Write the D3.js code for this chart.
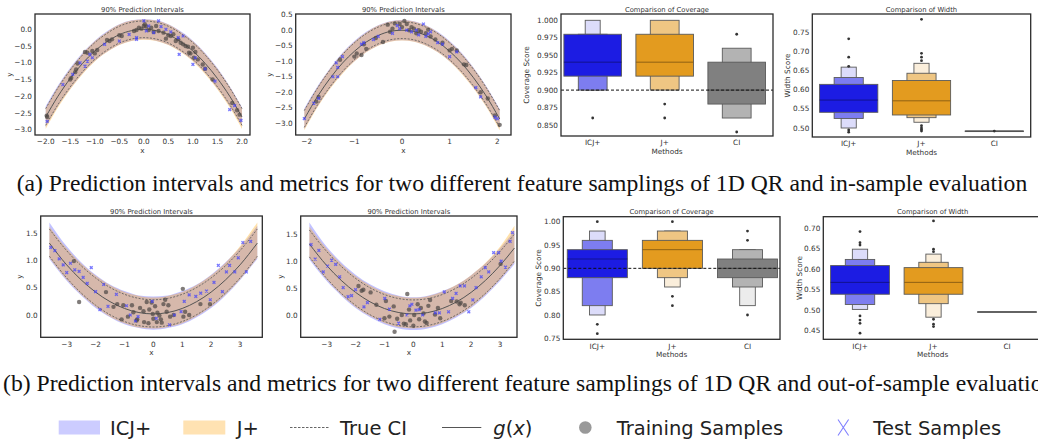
<!DOCTYPE html>
<html>
<head>
<meta charset="utf-8">
<script src="https://cdn.jsdelivr.net/npm/d3@7"></script>
<style>
  body { margin: 0; background: #fff; }
  svg { display: block; }
  text { font-family: "DejaVu Sans", sans-serif; fill: #333; }
</style>
</head>
<body>
<svg id="fig" width="1038" height="440"></svg>
<script>
// ---------- data ----------
const methods = ["ICJ+", "J+", "CI"]

// (a) left panel: x grid, g(x), true CI and the two prediction bands
const gridA = [-2, -1.75, -1.5, -1.25, -1, -0.75, -0.5, -0.25, 0, 0.25, 0.5, 0.75, 1, 1.25, 1.5, 1.75, 2]
const gA = [-2.62, -2.0, -1.47, -1.02, -0.65, -0.37, -0.16, -0.04, 0, -0.04, -0.16, -0.37, -0.65, -1.02, -1.47, -2.0, -2.62]
const ciLoA = [-2.87, -2.25, -1.72, -1.27, -0.9, -0.62, -0.41, -0.29, -0.25, -0.29, -0.41, -0.62, -0.9, -1.27, -1.72, -2.25, -2.87]
const ciHiA = [-2.37, -1.75, -1.22, -0.77, -0.4, -0.12, 0.09, 0.21, 0.25, 0.21, 0.09, -0.12, -0.4, -0.77, -1.22, -1.75, -2.37]
const icjLoA = [-2.92, -2.3, -1.78, -1.32, -0.95, -0.67, -0.46, -0.34, -0.3, -0.34, -0.46, -0.66, -0.94, -1.31, -1.77, -2.3, -2.9]
const icjHiA = [-2.3, -1.68, -1.15, -0.7, -0.34, -0.06, 0.15, 0.27, 0.3, 0.27, 0.15, -0.06, -0.34, -0.71, -1.16, -1.7, -2.33]
const jLoA = [-2.98, -2.34, -1.8, -1.34, -0.96, -0.68, -0.47, -0.35, -0.31, -0.35, -0.47, -0.68, -0.96, -1.34, -1.8, -2.34, -2.98]
const jHiA = [-2.36, -1.72, -1.18, -0.73, -0.36, -0.08, 0.14, 0.26, 0.29, 0.26, 0.14, -0.08, -0.36, -0.73, -1.18, -1.72, -2.36]
const trainA = [[-1.98, -2.58], [-1.97, -2.62], [-1.5, -1.5], [-1.48, -1.45], [-1.4, -1.28], [-1.38, -1.2], [-1.35, -1.02],
  [-1.2, -0.68], [-1.15, -0.7], [-1.05, -0.65], [-1.0, -0.72], [-0.95, -0.62], [-0.75, -0.32], [-0.7, -0.35], [-0.65, -0.3],
  [-0.5, -0.18], [-0.45, -0.2], [-0.2, -0.05], [-0.15, -0.02], [-0.1, 0.05], [-0.05, 0.02], [0.0, 0.1], [0.02, 0.15],
  [0.05, 0.08], [0.1, -0.02], [0.15, 0.05], [0.2, -0.08], [0.25, 0.1], [0.3, -0.05], [0.4, -0.1], [0.45, -0.28],
  [0.5, -0.18], [0.55, -0.2], [0.6, -0.15], [0.65, -0.35], [0.7, -0.3], [0.75, -0.4], [0.8, -0.45], [0.85, -0.5],
  [0.9, -0.52], [0.92, -0.7], [0.95, -0.72], [1.0, -0.55], [1.02, -0.85], [1.05, -0.68], [1.1, -0.9], [1.2, -1.05],
  [1.25, -1.18], [1.4, -1.5], [1.8, -2.2], [1.9, -2.42], [1.95, -2.55]]
const testA = [[-1.97, -2.75], [-1.65, -1.65], [-1.45, -1.35], [-1.3, -1.0], [-1.2, -1.1], [-1.15, -0.95], [-1.1, -0.75],
  [-1.05, -0.85], [-0.8, -0.45], [-0.5, -0.35], [-0.3, -0.15], [-0.15, -0.3], [-0.15, -0.25], [0.0, 0.25], [0.05, -0.05],
  [0.1, 0.1], [0.2, -0.1], [0.3, 0.25], [0.35, 0.08], [0.45, 0.0], [0.55, -0.08], [0.7, -0.25], [0.72, -0.75],
  [0.8, -0.2], [1.0, -1.05], [1.05, -0.85], [1.25, -1.18], [1.45, -1.55], [1.75, -2.4], [1.85, -2.28], [1.98, -2.72]]

// (a) second panel
const gridB = [-2.05, -1.75, -1.5, -1.25, -1, -0.75, -0.5, -0.25, 0, 0.25, 0.5, 0.75, 1, 1.25, 1.5, 1.75, 2.05]
const gB = [-2.86, -2.08, -1.53, -1.06, -0.68, -0.38, -0.17, -0.04, 0, -0.04, -0.17, -0.38, -0.68, -1.06, -1.53, -2.08, -2.86]
const ciLoB = [-3.13, -2.35, -1.8, -1.33, -0.95, -0.65, -0.44, -0.31, -0.27, -0.31, -0.44, -0.65, -0.95, -1.33, -1.8, -2.35, -3.13]
const ciHiB = [-2.59, -1.81, -1.26, -0.79, -0.41, -0.11, 0.1, 0.23, 0.27, 0.23, 0.1, -0.11, -0.41, -0.79, -1.26, -1.81, -2.59]
const icjLoB = [-3.18, -2.4, -1.85, -1.38, -1.0, -0.7, -0.49, -0.36, -0.32, -0.36, -0.49, -0.7, -1.0, -1.38, -1.85, -2.4, -3.16]
const icjHiB = [-2.52, -1.75, -1.2, -0.73, -0.35, -0.05, 0.16, 0.29, 0.33, 0.29, 0.16, -0.05, -0.35, -0.73, -1.2, -1.76, -2.54]
const jLoB = [-3.22, -2.43, -1.87, -1.4, -1.01, -0.71, -0.5, -0.37, -0.33, -0.37, -0.5, -0.71, -1.01, -1.4, -1.87, -2.43, -3.22]
const jHiB = [-2.56, -1.78, -1.22, -0.75, -0.37, -0.07, 0.15, 0.28, 0.32, 0.28, 0.15, -0.07, -0.37, -0.75, -1.22, -1.78, -2.56]
const trainB = [[-1.75, -2.15], [-1.8, -2.3], [-1.3, -0.95], [-1.0, -0.85], [-0.95, -0.75], [-0.85, -0.8], [-0.8, -0.45],
  [-0.75, -0.6], [-0.55, -0.25], [-0.4, -0.38], [-0.3, 0.18], [-0.25, -0.05], [-0.2, 0.05], [-0.15, 0.22], [-0.05, 0.2],
  [0.0, 0.1], [0.05, 0.3], [0.1, 0.2], [0.15, 0.0], [0.2, 0.1], [0.25, 0.05], [0.3, -0.1], [0.35, 0.0], [0.4, -0.05],
  [0.5, -0.1], [0.55, 0.02], [0.6, -0.2], [0.7, -0.3], [0.85, -0.4], [1.0, -0.65], [1.05, -0.6], [1.15, -0.65],
  [1.3, -1.1], [1.35, -1.12], [1.65, -2.0], [1.8, -2.2], [2.05, -3.05], [1.95, -2.75]]
const testB = [[-2.05, -2.85], [-1.85, -2.35], [-1.75, -2.2], [-1.38, -1.05], [-1.35, -1.2], [-1.25, -0.85], [-1.45, -1.5],
  [-1.35, -1.5], [-0.85, -0.45], [-0.8, -0.4], [-0.6, -0.3], [-0.5, -0.2], [-0.2, -0.1], [-0.1, 0.15], [-0.05, 0.05],
  [0.1, 0.0], [0.2, -0.05], [0.3, 0.0], [0.35, -0.15], [0.45, 0.2], [0.5, -0.2], [0.55, -0.12], [0.6, -0.05],
  [0.75, -0.4], [0.85, -0.45], [1.0, -0.85], [1.15, -0.7], [1.55, -1.85], [1.65, -2.15], [1.95, -2.8], [2.0, -2.85]]

// (b) first panel
const gridC = [-3.6, -3, -2.5, -2, -1.5, -1, -0.5, 0, 0.5, 1, 1.5, 2, 2.5, 3, 3.6]
const gC = [1.32, 0.92, 0.645, 0.42, 0.245, 0.12, 0.045, 0.02, 0.045, 0.12, 0.245, 0.42, 0.645, 0.92, 1.32]
const ciLoC = [1.08, 0.68, 0.405, 0.18, 0.005, -0.12, -0.195, -0.22, -0.195, -0.12, 0.005, 0.18, 0.405, 0.68, 1.08]
const ciHiC = [1.58, 1.18, 0.905, 0.68, 0.505, 0.38, 0.305, 0.28, 0.305, 0.38, 0.505, 0.68, 0.905, 1.18, 1.58]
const icjLoC = [1.03, 0.63, 0.36, 0.13, -0.04, -0.17, -0.24, -0.27, -0.24, -0.17, -0.04, 0.13, 0.36, 0.64, 1.03]
const icjHiC = [1.7, 1.26, 0.97, 0.74, 0.56, 0.44, 0.36, 0.34, 0.36, 0.44, 0.56, 0.74, 0.97, 1.24, 1.64]
const jLoC = [1.05, 0.65, 0.375, 0.15, -0.03, -0.15, -0.23, -0.25, -0.22, -0.15, -0.025, 0.15, 0.375, 0.65, 1.05]
const jHiC = [1.62, 1.22, 0.945, 0.72, 0.545, 0.42, 0.35, 0.32, 0.35, 0.42, 0.55, 0.73, 0.96, 1.26, 1.7]
const trainC = [[-2.75, 0.99], [-2.57, 0.24], [-1.64, 0.42], [-1.38, 0.15], [-1.25, 0.2], [-1.1, -0.08], [-1.04, 0.18],
  [-0.88, -0.03], [-0.74, 0.18], [-0.69, 0.05], [-0.58, -0.1], [-0.56, -0.08], [-0.46, 0.13], [-0.34, 0.07],
  [-0.32, -0.13], [-0.23, 0.24], [-0.17, -0.15], [-0.14, 0.1], [-0.06, 0.23], [-0.02, 0.02], [0.0, -0.07],
  [0.06, 0.16], [0.12, -0.13], [0.14, 0.04], [0.21, -0.01], [0.26, -0.08], [0.29, -0.14], [0.35, 0.2], [0.41, 0.28],
  [0.46, 0.06], [0.52, 0.18], [0.58, -0.03], [0.7, 0.0], [1.02, 0.48], [1.04, -0.03], [1.1, 0.06], [1.24, 0.0],
  [1.63, 0.2], [1.96, 0.2]]
const testC = [[-3.55, 1.24], [-3.41, 1.18], [-3.26, 1.03], [-3.12, 0.92], [-3.0, 0.78], [-2.87, 0.95], [-2.72, 0.83],
  [-2.57, 0.8], [-2.43, 0.69], [-2.29, 0.58], [-2.15, 0.87], [-2.0, 0.43], [-1.85, 0.1], [-1.72, 0.56], [-1.57, 0.16],
  [-1.28, 0.38], [-0.93, 0.17], [-0.8, 0.0], [-0.62, -0.11], [-0.53, -0.03], [-0.04, 0.25], [0.1, -0.06], [0.56, -0.18],
  [0.73, 0.0], [0.96, 0.06], [1.07, 0.25], [1.24, 0.37], [1.47, 0.34], [1.64, 0.4], [1.84, 0.44], [1.97, 0.28],
  [2.1, 0.6], [2.25, 0.91], [2.39, 0.43], [2.53, 0.79], [2.64, 0.91], [2.82, 0.79], [2.94, 1.05], [3.1, 1.33],
  [3.22, 0.79], [3.37, 1.35]]

// (b) second panel
const gridD = [-3.6, -3, -2.5, -2, -1.5, -1, -0.5, 0, 0.5, 1, 1.5, 2, 2.5, 3, 3.5]
const gD = [1.32, 0.92, 0.645, 0.42, 0.245, 0.12, 0.045, 0.02, 0.045, 0.12, 0.245, 0.42, 0.645, 0.92, 1.245]
const ciLoD = [1.08, 0.68, 0.405, 0.18, 0.005, -0.12, -0.195, -0.22, -0.195, -0.12, 0.005, 0.18, 0.405, 0.68, 1.005]
const ciHiD = [1.58, 1.18, 0.905, 0.68, 0.505, 0.38, 0.305, 0.28, 0.305, 0.38, 0.505, 0.68, 0.905, 1.18, 1.505]
const icjLoD = [1.03, 0.63, 0.36, 0.13, -0.04, -0.17, -0.25, -0.28, -0.25, -0.17, -0.04, 0.13, 0.36, 0.63, 0.95]
const icjHiD = [1.72, 1.27, 0.98, 0.75, 0.57, 0.44, 0.36, 0.33, 0.36, 0.44, 0.56, 0.74, 0.96, 1.24, 1.56]
const jLoD = [1.06, 0.66, 0.38, 0.15, -0.02, -0.15, -0.23, -0.25, -0.23, -0.15, -0.02, 0.15, 0.38, 0.66, 0.98]
const jHiD = [1.64, 1.23, 0.95, 0.72, 0.55, 0.42, 0.35, 0.32, 0.35, 0.43, 0.56, 0.74, 0.97, 1.27, 1.66]
const trainD = [[-1.9, 0.54], [-1.79, 0.45], [-1.73, 0.47], [-1.48, 0.42], [-1.28, 0.19], [-1.0, -0.06], [-0.95, 0.26],
  [-0.83, -0.03], [-0.68, 0.16], [-0.65, -0.31], [-0.56, -0.07], [-0.4, 0.0], [-0.33, -0.16], [-0.26, -0.17],
  [-0.21, 0.39], [-0.15, 0.1], [-0.11, -0.1], [0.0, -0.2], [0.03, 0.0], [0.15, 0.2], [0.2, -0.08], [0.26, 0.13],
  [0.35, 0.03], [0.4, -0.12], [0.46, -0.15], [0.52, 0.17], [0.58, 0.28], [0.75, 0.01], [0.85, 0.13], [0.93, -0.06],
  [1.31, 0.26], [1.5, 0.25], [1.6, 0.2], [1.64, 0.23], [1.78, 0.18], [3.02, 0.95]]
const testD = [[-3.54, 1.31], [-3.4, 1.04], [-3.27, 1.2], [-3.12, 0.8], [-2.97, 0.91], [-2.83, 1.02], [-2.69, 0.94],
  [-2.55, 0.71], [-2.43, 0.51], [-2.26, 0.34], [-2.14, 0.36], [-2.0, 0.47], [-1.71, 0.15], [-1.59, 0.23], [-1.16, -0.08],
  [-0.99, 0.31], [-0.83, 0.11], [-0.51, -0.15], [-0.22, 0.0], [-0.12, 0.17], [-0.05, 0.2], [0.09, 0.09], [0.2, 0.1],
  [0.32, 0.0], [0.76, 0.04], [0.9, 0.04], [1.07, 0.43], [1.22, 0.06], [1.36, 0.31], [1.48, 0.4], [1.62, 0.54],
  [1.77, 0.54], [1.92, 0.06], [2.06, 0.28], [2.17, 0.51], [2.35, 0.71], [2.49, 0.88], [2.61, 0.8], [2.78, 1.16],
  [2.95, 1.16], [3.04, 1.0], [3.19, 0.89], [3.35, 1.37], [3.43, 1.53]]

// letter-value boxes per method: [low, high] for each level, innermost first
const covTopLevels = [[[0.92, 0.98], [0.90, 0.98], [0.90, 1.00]], [[0.92, 0.98], [0.90, 1.00]], [[0.88, 0.94], [0.86, 0.96]]]
const covTopMedians = [0.94, 0.94, 0.90]
const covTopOutliers = [[0.86], [0.88, 0.86], [0.98, 0.84]]

const widTopLevels = [[[0.541, 0.614], [0.525, 0.632], [0.500, 0.659]], [[0.534, 0.624], [0.527, 0.643], [0.515, 0.669]], [[0.4918, 0.4922]]]
const widTopMedians = [0.573, 0.571, 0.492]
const widTopOutliers = [[0.733, 0.685, 0.661, 0.495, 0.489], [0.784, 0.695, 0.685, 0.676, 0.506, 0.500, 0.496, 0.492], [0.492]]

const covBotLevels = [[[0.88, 0.94], [0.82, 0.96], [0.80, 0.98]], [[0.90, 0.96], [0.88, 0.98], [0.86, 0.98]], [[0.88, 0.92], [0.86, 0.94], [0.82, 0.94]]]
const covBotMedians = [0.92, 0.94, 0.90]
const covBotOutliers = [[1.00, 0.78, 0.76], [1.00, 0.84, 0.82], [0.98, 0.96, 0.80]]

const widBotLevels = [[[0.539, 0.609], [0.514, 0.624], [0.502, 0.649]], [[0.539, 0.604], [0.516, 0.617], [0.483, 0.637]], [[0.4958, 0.4962]]]
const widBotMedians = [0.568, 0.568, 0.496]
const widBotOutliers = [[0.692, 0.665, 0.659, 0.486, 0.476, 0.468, 0.444], [0.718, 0.649, 0.643, 0.478, 0.466, 0.460], []]

const nominal = 0.90

// ---------- drawing ----------
const svg = d3.select("#fig")
const blueShades = ["#1c1ce3", "#7d7df0", "#dcdcfa"]
const orangeShades = ["#e39b1f", "#efc683", "#faeedb"]
const greyShades = ["#808080", "#b3b3b3", "#ececec"]
const palettes = [blueShades, orangeShades, greyShades]
const levelWidth = [1, 0.5, 0.26]

function anchored(v, px) {
  return d3.scaleLinear().domain(v).range(px)
}

function frame(g, f) {
  g.append("rect")
    .attr("x", f.l).attr("y", f.t)
    .attr("width", f.r - f.l).attr("height", f.b - f.t)
    .attr("fill", "none").attr("stroke", "#2b2b2b").attr("stroke-width", 1.3)
}

function yAxisLabels(g, f, y, ticks, fmt) {
  g.selectAll(null).data(ticks).enter().append("text")
    .attr("x", f.l - 3).attr("y", d => y(d) + 2.6)
    .attr("text-anchor", "end").attr("font-size", 7.3)
    .text(d => fmt(d))
}

function titles(g, f, title, xlab, ylab, ylabX) {
  g.append("text").attr("x", (f.l + f.r) / 2).attr("y", f.t - 2.5)
    .attr("text-anchor", "middle").attr("font-size", 6.8).text(title)
  g.append("text").attr("x", (f.l + f.r) / 2).attr("y", f.b + 17.5)
    .attr("text-anchor", "middle").attr("font-size", 7.3).text(xlab)
  g.append("text").attr("transform", `translate(${ylabX},${(f.t + f.b) / 2}) rotate(-90)`)
    .attr("text-anchor", "middle").attr("font-size", 7.3).text(ylab)
}

function scatterPanel(p) {
  const g = svg.append("g")
  const f = p.frame
  const x = anchored(p.xv, p.xpx)
  const y = anchored(p.yv, p.ypx)
  const band = (lo, hi) => d3.area()
    .x((d, i) => x(p.grid[i])).y0((d, i) => y(lo[i])).y1((d, i) => y(hi[i]))
    .curve(d3.curveMonotoneX)(p.grid)
  const line = vals => d3.line()
    .x((d, i) => x(p.grid[i])).y((d, i) => y(vals[i]))
    .curve(d3.curveMonotoneX)(p.grid)

  g.append("path").attr("d", band(p.icjLo, p.icjHi)).attr("fill", "#0000ff").attr("opacity", 0.24)
  g.append("path").attr("d", band(p.jLo, p.jHi)).attr("fill", "#ffa500").attr("opacity", 0.33)
  g.append("path").attr("d", line(p.ciLo)).attr("fill", "none").attr("stroke", "#555")
    .attr("stroke-width", 0.8).attr("stroke-dasharray", "2,1.5")
  g.append("path").attr("d", line(p.ciHi)).attr("fill", "none").attr("stroke", "#555")
    .attr("stroke-width", 0.8).attr("stroke-dasharray", "2,1.5")
  g.append("path").attr("d", line(p.g)).attr("fill", "none").attr("stroke", "#555").attr("stroke-width", 1)

  g.selectAll(null).data(p.train).enter().append("circle")
    .attr("cx", d => x(d[0])).attr("cy", d => y(d[1])).attr("r", 2.2)
    .attr("fill", "#4f4a47").attr("opacity", 0.72)
  g.selectAll(null).data(p.test).enter().append("path")
    .attr("d", d => {
      const cx = x(d[0]), cy = y(d[1]), s = 1.4
      return `M${cx - s},${cy - s}L${cx + s},${cy + s}M${cx - s},${cy + s}L${cx + s},${cy - s}`
    })
    .attr("stroke", "#4040ff").attr("stroke-width", 1.3).attr("opacity", 0.7)

  frame(g, f)
  g.selectAll(null).data(p.xTicks).enter().append("text")
    .attr("x", d => x(d)).attr("y", f.b + 9.3)
    .attr("text-anchor", "middle").attr("font-size", 7.3)
    .text(d => p.xFmt(d))
  yAxisLabels(g, f, y, p.yTicks, p.yFmt)
  titles(g, f, "90% Prediction Intervals", "x", "y", p.ylabX)
}

function boxenPanel(p) {
  const g = svg.append("g")
  const f = p.frame
  const x = anchored([0, 2], p.xpx)
  const y = anchored(p.yv, p.ypx)
  const bw = 0.8 * (x(1) - x(0))

  methods.forEach((m, mi) => {
    const levels = p.levels[mi]
    const cx = x(mi)
    for (let k = levels.length - 1; k >= 0; k--) {
      const w = bw * levelWidth[k]
      const top = y(levels[k][1]), bot = y(levels[k][0])
      g.append("rect")
        .attr("x", cx - w / 2).attr("y", top)
        .attr("width", w).attr("height", Math.max(bot - top, 0.6))
        .attr("fill", palettes[mi][k])
        .attr("stroke", "#5a5a5a").attr("stroke-width", 0.9)
    }
    g.append("line")
      .attr("x1", cx - bw / 2).attr("x2", cx + bw / 2)
      .attr("y1", y(p.medians[mi])).attr("y2", y(p.medians[mi]))
      .attr("stroke", d3.color(palettes[mi][0]).darker(1.3)).attr("stroke-width", 1)
    g.selectAll(null).data(p.outliers[mi]).enter().append("circle")
      .attr("cx", cx).attr("cy", d => y(d)).attr("r", 1.4).attr("fill", "#333")
  })

  if (p.hline) {
    g.append("line").attr("x1", f.l).attr("x2", f.r)
      .attr("y1", y(nominal)).attr("y2", y(nominal))
      .attr("stroke", "#111").attr("stroke-width", 1).attr("stroke-dasharray", "3,2")
  }

  frame(g, f)
  g.selectAll(null).data(methods).enter().append("text")
    .attr("x", (d, i) => x(i)).attr("y", f.b + 9.3)
    .attr("text-anchor", "middle").attr("font-size", 7.3).text(d => d)
  yAxisLabels(g, f, y, p.yTicks, p.yFmt)
  titles(g, f, p.title, "Methods", p.ylab, p.ylabX)
}

const f1 = d3.format(".1f"), f0 = d3.format("d"), f2 = d3.format(".2f"), f3 = d3.format(".3f")

scatterPanel({ frame: { l: 35, t: 14, r: 250, b: 135 }, xv: [-2, 2], xpx: [45.7, 242], yv: [0, -3], ypx: [29.3, 129.7],
  grid: gridA, g: gA, ciLo: ciLoA, ciHi: ciHiA, icjLo: icjLoA, icjHi: icjHiA, jLo: jLoA, jHi: jHiA,
  train: trainA, test: testA, xTicks: d3.range(-2, 2.01, 0.5), xFmt: f1, yTicks: d3.range(-3, 0.01, 0.5), yFmt: f1, ylabX: 12 })

scatterPanel({ frame: { l: 295.7, t: 14, r: 511, b: 135 }, xv: [-2, 2], xpx: [306.7, 497.3], yv: [0.5, -3], ypx: [14.7, 123.3],
  grid: gridB, g: gB, ciLo: ciLoB, ciHi: ciHiB, icjLo: icjLoB, icjHi: icjHiB, jLo: jLoB, jHi: jHiB,
  train: trainB, test: testB, xTicks: [-2, -1, 0, 1, 2], xFmt: f0, yTicks: d3.range(-3, 0.51, 0.5), yFmt: f1, ylabX: 272 })

boxenPanel({ frame: { l: 561, t: 14, r: 773, b: 136 }, xpx: [592.7, 736.7], yv: [1.0, 0.85], ypx: [20.3, 125],
  levels: covTopLevels, medians: covTopMedians, outliers: covTopOutliers, hline: true,
  yTicks: d3.range(0.85, 1.001, 0.025), yFmt: f3, title: "Comparison of Coverage", ylab: "Coverage Score", ylabX: 529 })

boxenPanel({ frame: { l: 812.3, t: 14, r: 1030.7, b: 137 }, xpx: [848.7, 994.3], yv: [0.75, 0.5], ypx: [32.3, 128],
  levels: widTopLevels, medians: widTopMedians, outliers: widTopOutliers, hline: false,
  yTicks: d3.range(0.5, 0.751, 0.05), yFmt: f2, title: "Comparison of Width", ylab: "Width Score", ylabX: 790 })

scatterPanel({ frame: { l: 40.7, t: 216, r: 262.3, b: 337.3 }, xv: [-3, 3], xpx: [66.7, 240], yv: [1.5, 0], ypx: [233.3, 315],
  grid: gridC, g: gC, ciLo: ciLoC, ciHi: ciHiC, icjLo: icjLoC, icjHi: icjHiC, jLo: jLoC, jHi: jHiC,
  train: trainC, test: testC, xTicks: d3.range(-3, 3.01, 1), xFmt: f0, yTicks: [0, 0.5, 1, 1.5], yFmt: f1, ylabX: 22 })

scatterPanel({ frame: { l: 300.7, t: 216, r: 517, b: 337.3 }, xv: [-3, 3], xpx: [326.7, 500], yv: [1.5, 0], ypx: [234.3, 315],
  grid: gridD, g: gD, ciLo: ciLoD, ciHi: ciHiD, icjLo: icjLoD, icjHi: icjHiD, jLo: jLoD, jHi: jHiD,
  train: trainD, test: testD, xTicks: d3.range(-3, 3.01, 1), xFmt: f0, yTicks: [0, 0.5, 1, 1.5], yFmt: f1, ylabX: 283 })

boxenPanel({ frame: { l: 563.3, t: 216.7, r: 780, b: 339.3 }, xpx: [597.3, 747.5], yv: [1.0, 0.75], ypx: [221.7, 338.3],
  levels: covBotLevels, medians: covBotMedians, outliers: covBotOutliers, hline: true,
  yTicks: d3.range(0.75, 1.001, 0.05), yFmt: f2, title: "Comparison of Coverage", ylab: "Coverage Score", ylabX: 541 })

boxenPanel({ frame: { l: 823.3, t: 216.7, r: 1042, b: 339.3 }, xpx: [860, 1007], yv: [0.70, 0.45], ypx: [228.3, 330.7],
  levels: widBotLevels, medians: widBotMedians, outliers: widBotOutliers, hline: false,
  yTicks: d3.range(0.45, 0.701, 0.05), yFmt: f2, title: "Comparison of Width", ylab: "Width Score", ylabX: 802 })

// ---------- captions ----------
const capA = svg.append("text").attr("x", 16.7).attr("y", 191)
  .style("font-family", "'Liberation Serif', 'Times New Roman', serif").style("fill", "#111")
  .attr("font-size", 18)
  .text("(a) Prediction intervals and metrics for two different feature samplings of 1D QR and in-sample evaluation")
const capSize = 18 * 1011 / capA.node().getComputedTextLength()
capA.attr("font-size", capSize)
svg.append("text").attr("x", 3).attr("y", 391)
  .style("font-family", "'Liberation Serif', 'Times New Roman', serif").style("fill", "#111")
  .attr("font-size", capSize)
  .text("(b) Prediction intervals and metrics for two different feature samplings of 1D QR and out-of-sample evaluation")

// ---------- legend ----------
const leg = svg.append("g")
const ly = 427.5
leg.append("rect").attr("x", 58.7).attr("y", ly - 7).attr("width", 41.3).attr("height", 14).attr("fill", "#ccccff")
leg.append("rect").attr("x", 183.3).attr("y", ly - 7).attr("width", 42).attr("height", 14).attr("fill", "#ffe2b2")
leg.append("line").attr("x1", 290).attr("x2", 330).attr("y1", ly).attr("y2", ly)
  .attr("stroke", "#666").attr("stroke-width", 1).attr("stroke-dasharray", "2.5,1.5")
leg.append("line").attr("x1", 442).attr("x2", 481.3).attr("y1", ly).attr("y2", ly)
  .attr("stroke", "#555").attr("stroke-width", 1.2)
leg.append("circle").attr("cx", 585.3).attr("cy", ly).attr("r", 6.3).attr("fill", "#999")
leg.append("path").attr("d", `M838,${ly - 8}L848.6,${ly + 8}M838,${ly + 8}L848.6,${ly - 8}`)
  .attr("stroke", "#8080ff").attr("stroke-width", 1.1).attr("fill", "none")

const legText = [["ICJ+", 110], ["J+", 236.7], ["True CI", 340], ["Training Samples", 616.7], ["Test Samples", 873.3]]
leg.selectAll(null).data(legText).enter().append("text")
  .attr("x", d => d[1]).attr("y", ly + 7).attr("font-size", 19.5).style("fill", "#222")
  .text(d => d[0])
const gx = leg.append("text").attr("x", 493.3).attr("y", ly + 7).attr("font-size", 19.5).style("fill", "#222")
gx.append("tspan").attr("font-style", "italic").text("g")
gx.append("tspan").text("(")
gx.append("tspan").attr("font-style", "italic").text("x")
gx.append("tspan").text(")")
</script>
</body>
</html>
